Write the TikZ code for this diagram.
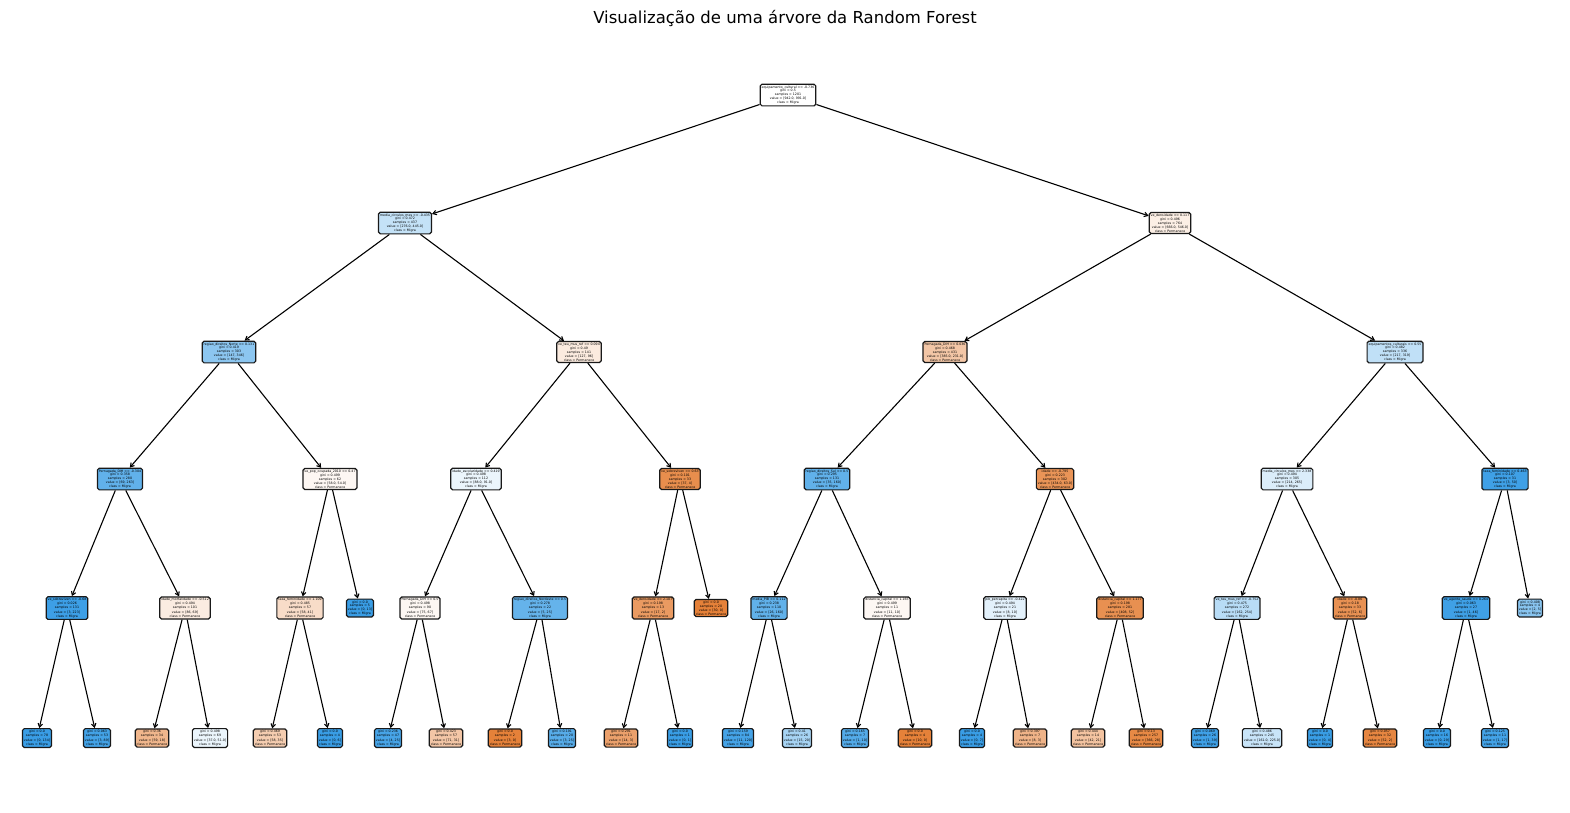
\documentclass[tikz,border=0pt]{standalone}
\usepackage{fontspec}
\setmainfont{DejaVu Sans}
\usetikzlibrary{arrows.meta}

\definecolor{skb}{HTML}{399DE5}
\definecolor{sko}{HTML}{E58139}

\tikzset{
  tn/.style={draw=black!90, line width=1.2pt, rounded corners=1.8pt, align=center,
    inner sep=1.5pt, font=\fontsize{3.2}{3.9}\selectfont, text=black},
  arr/.style={-{Straight Barb[length=3.5pt,width=4.5pt]}, line width=1.1pt, draw=black}
}

\begin{document}
\begin{tikzpicture}[x=1pt, y=-1pt]
\useasboundingbox (0,0) rectangle (1570,812);
\fill[white] (0,0) rectangle (1570,812);

\node[font=\fontsize{16.5}{20}\selectfont] (title) at (785,18) {Visualização de uma árvore da Random Forest};

% root
\node[tn, fill=white] (r) at (788,95) {equipamento\_cultural <= -0.736\\gini = 0.5\\samples = 1201\\value = [942.0, 991.0]\\class = Migra};

% depth 1
\node[tn, fill=skb!30] (L1a) at (405,223) {media\_circulos\_mes <= -0.435\\gini = 0.472\\samples = 437\\value = [276.0, 445.0]\\class = Migra};
\node[tn, fill=sko!13] (L1b) at (1170,223) {ve\_densidade <= 0.117\\gini = 0.496\\samples = 764\\value = [666.0, 546.0]\\class = Permanece};

% depth 2
\node[tn, fill=skb!58] (L2a) at (229,352) {regiao\_direitos\_Norte <= 0.131\\gini = 0.419\\samples = 303\\value = [147, 346]\\class = Migra};
\node[tn, fill=sko!16] (L2b) at (579,352) {ve\_teu\_mus\_ref <= 0.094\\gini = 0.49\\samples = 141\\value = [127, 96]\\class = Permanece};
\node[tn, fill=sko!45] (L2c) at (945,352) {Pernagada\_DIH <= 0.036\\gini = 0.468\\samples = 431\\value = [385.0, 231.0]\\class = Permanece};
\node[tn, fill=skb!32] (L2d) at (1395,352) {equipamentos\_culturais <= 0.55\\gini = 0.482\\samples = 336\\value = [217, 319]\\class = Migra};

% depth 3
\node[tn, fill=skb!80] (L3a) at (120,479) {Pernagada\_DIH <= -0.304\\gini = 0.358\\samples = 280\\value = [69, 263]\\class = Migra};
\node[tn, fill=sko!6] (L3b) at (330,479) {ve\_pop\_ocupada\_2010 <= 0.47\\gini = 0.499\\samples = 62\\value = [58.0, 54.0]\\class = Permanece};
\node[tn, fill=skb!10] (L3c) at (476,479) {idade\_escolaridade <= 0.419\\gini = 0.498\\samples = 112\\value = [88.0, 91.0]\\class = Migra};
\node[tn, fill=sko!90] (L3d) at (680,479) {ve\_sobreviven <= 0.63\\gini = 0.101\\samples = 33\\value = [37, 4]\\class = Permanece};
\node[tn, fill=skb!80] (L3e) at (827,479) {regiao\_direitos\_Sul <= 0.5\\gini = 0.295\\samples = 131\\value = [35, 160]\\class = Migra};
\node[tn, fill=sko!85] (L3f) at (1055,479) {idade <= -0.795\\gini = 0.223\\samples = 302\\value = [434.0, 63.0]\\class = Permanece};
\node[tn, fill=skb!18] (L3g) at (1287,479) {media\_circulos\_mes <= 2.338\\gini = 0.494\\samples = 305\\value = [214, 265]\\class = Migra};
\node[tn, fill=skb!97] (L3h) at (1505,479) {taxa\_feminidade <= 0.463\\gini = 0.107\\samples = 31\\value = [3, 50]\\class = Migra};

% depth 4
\node[tn, fill=skb!98] (L4a) at (67,608) {ve\_sobreviven <= -0.68\\gini = 0.026\\samples = 131\\[1pt]value = [3, 223]\\class = Migra};
\node[tn, fill=sko!15] (L4b) at (185,608) {idade\_mortalidade <= -0.512\\gini = 0.494\\samples = 101\\[1pt]value = [86, 69]\\class = Permanece};
\node[tn, fill=sko!28] (L4c) at (300,608) {taxa\_feminidade <= 1.109\\gini = 0.485\\samples = 57\\[1pt]value = [58, 41]\\class = Permanece};
\node[tn, fill=skb] (L4d) at (360,608) {gini = 0.0\\samples = 5\\value = [0, 13]\\class = Migra};
\node[tn, fill=sko!6] (L4e) at (420,608) {Pernagada\_DIH <= 0.5\\gini = 0.498\\samples = 90\\[1pt]value = [75, 67]\\class = Permanece};
\node[tn, fill=skb!78] (L4f) at (540,608) {regiao\_direitos\_Nordeste <= 0.5\\gini = 0.278\\samples = 22\\[1pt]value = [5, 25]\\class = Migra};
\node[tn, fill=sko!80] (L4g) at (653,608) {ve\_densidade <= 2.107\\gini = 0.198\\samples = 13\\[1pt]value = [17, 2]\\class = Permanece};
\node[tn, fill=sko] (L4h) at (711,608) {gini = 0.0\\samples = 20\\value = [30, 0]\\class = Permanece};
\node[tn, fill=skb!80] (L4i) at (769,608) {media\_PIB <= 0.112\\gini = 0.238\\samples = 110\\[1pt]value = [26, 160]\\class = Migra};
\node[tn, fill=sko!6] (L4j) at (887,608) {distancia\_capital <= 1.165\\gini = 0.499\\samples = 11\\[1pt]value = [11, 10]\\class = Permanece};
\node[tn, fill=skb!14] (L4k) at (1005,608) {pib\_percapita <= -0.422\\gini = 0.494\\samples = 21\\[1pt]value = [8, 10]\\class = Migra};
\node[tn, fill=sko!88] (L4l) at (1120,608) {distancia\_capital <= 1.177\\gini = 0.198\\samples = 281\\[1pt]value = [408, 52]\\class = Permanece};
\node[tn, fill=skb!36] (L4m) at (1237,608) {ve\_teu\_mus\_ref <= -0.752\\gini = 0.475\\samples = 272\\[1pt]value = [162, 254]\\class = Migra};
\node[tn, fill=sko!87] (L4n) at (1350,608) {idade <= -0.86\\gini = 0.18\\samples = 33\\[1pt]value = [52, 6]\\class = Permanece};
\node[tn, fill=skb!97] (L4o) at (1466,608) {ve\_agente\_saude <= 0.264\\gini = 0.063\\samples = 27\\[1pt]value = [1, 46]\\class = Migra};
\node[tn, fill=skb!60] (L4p) at (1530,608) {gini = 0.408\\samples = 4\\value = [2, 5]\\class = Migra};

% depth 5 (leaves)
\node[tn, fill=skb]     (L5a) at (37,738)   {gini = 0.0\\samples = 78\\[1pt]value = [0, 134]\\class = Migra};
\node[tn, fill=skb!95]  (L5b) at (97,738)   {gini = 0.063\\samples = 53\\[1pt]value = [3, 89]\\class = Migra};
\node[tn, fill=sko!58]  (L5c) at (152,738)  {gini = 0.36\\samples = 34\\[1pt]value = [59, 18]\\class = Permanece};
\node[tn, fill=skb!10]  (L5d) at (210,738)  {gini = 0.498\\samples = 69\\[1pt]value = [37.0, 51.0]\\class = Migra};
\node[tn, fill=sko!40]  (L5e) at (270,738)  {gini = 0.469\\samples = 53\\[1pt]value = [58, 35]\\class = Permanece};
\node[tn, fill=skb]     (L5f) at (330,738)  {gini = 0.0\\samples = 4\\[1pt]value = [0, 6]\\class = Migra};
\node[tn, fill=skb!93]  (L5g) at (388,738)  {gini = 0.236\\samples = 47\\[1pt]value = [4, 25]\\class = Migra};
\node[tn, fill=sko!45]  (L5h) at (446,738)  {gini = 0.423\\samples = 57\\[1pt]value = [71, 31]\\class = Permanece};
\node[tn, fill=sko]     (L5i) at (505,738)  {gini = 0.0\\samples = 2\\[1pt]value = [3, 0]\\class = Permanece};
\node[tn, fill=skb!85]  (L5j) at (562,738)  {gini = 0.191\\samples = 20\\[1pt]value = [3, 25]\\class = Migra};
\node[tn, fill=sko!75]  (L5k) at (621,738)  {gini = 0.291\\samples = 11\\[1pt]value = [14, 3]\\class = Permanece};
\node[tn, fill=skb]     (L5l) at (680,738)  {gini = 0.0\\samples = 1\\[1pt]value = [0, 1]\\class = Migra};
\node[tn, fill=skb!94]  (L5m) at (738,738)  {gini = 0.159\\samples = 84\\[1pt]value = [11, 120]\\class = Migra};
\node[tn, fill=skb!45]  (L5n) at (797,738)  {gini = 0.41\\samples = 26\\[1pt]value = [15, 20]\\class = Migra};
\node[tn, fill=skb!87]  (L5o) at (855,738)  {gini = 0.165\\samples = 7\\[1pt]value = [1, 10]\\class = Migra};
\node[tn, fill=sko]     (L5p) at (915,738)  {gini = 0.0\\samples = 4\\[1pt]value = [10, 0]\\class = Permanece};
\node[tn, fill=skb]     (L5q) at (972,738)  {gini = 0.0\\samples = 4\\[1pt]value = [0, 7]\\class = Migra};
\node[tn, fill=sko!60]  (L5r) at (1030,738) {gini = 0.397\\samples = 7\\[1pt]value = [8, 3]\\class = Permanece};
\node[tn, fill=sko!48]  (L5s) at (1088,738) {gini = 0.444\\samples = 14\\[1pt]value = [42, 21]\\class = Permanece};
\node[tn, fill=sko!94]  (L5t) at (1146,738) {gini = 0.13\\samples = 257\\[1pt]value = [366, 28]\\class = Permanece};
\node[tn, fill=skb!97]  (L5u) at (1205,738) {gini = 0.069\\samples = 26\\[1pt]value = [1, 39]\\class = Migra};
\node[tn, fill=skb!28]  (L5v) at (1262,738) {gini = 0.486\\samples = 245\\[1pt]value = [161.0, 225.0]\\class = Migra};
\node[tn, fill=skb]     (L5w) at (1320,738) {gini = 0.0\\samples = 1\\[1pt]value = [0, 4]\\class = Migra};
\node[tn, fill=sko!96]  (L5x) at (1380,738) {gini = 0.057\\samples = 32\\[1pt]value = [52, 2]\\class = Permanece};
\node[tn, fill=skb]     (L5y) at (1437,738) {gini = 0.0\\samples = 16\\[1pt]value = [0, 29]\\class = Migra};
\node[tn, fill=skb!95]  (L5z) at (1495,738) {gini = 0.125\\samples = 11\\[1pt]value = [1, 17]\\class = Migra};

% connectors
\foreach \p/\c in {r/L1a, r/L1b,
  L1a/L2a, L1a/L2b, L1b/L2c, L1b/L2d,
  L2a/L3a, L2a/L3b, L2b/L3c, L2b/L3d, L2c/L3e, L2c/L3f, L2d/L3g, L2d/L3h,
  L3a/L4a, L3a/L4b, L3b/L4c, L3b/L4d, L3c/L4e, L3c/L4f, L3d/L4g, L3d/L4h,
  L3e/L4i, L3e/L4j, L3f/L4k, L3f/L4l, L3g/L4m, L3g/L4n, L3h/L4o, L3h/L4p,
  L4a/L5a, L4a/L5b, L4b/L5c, L4b/L5d, L4c/L5e, L4c/L5f, L4e/L5g, L4e/L5h,
  L4f/L5i, L4f/L5j, L4g/L5k, L4g/L5l, L4i/L5m, L4i/L5n, L4j/L5o, L4j/L5p,
  L4k/L5q, L4k/L5r, L4l/L5s, L4l/L5t, L4m/L5u, L4m/L5v, L4n/L5w, L4n/L5x,
  L4o/L5y, L4o/L5z}
  \draw[arr] (\p) -- (\c);

\end{tikzpicture}
\end{document}
